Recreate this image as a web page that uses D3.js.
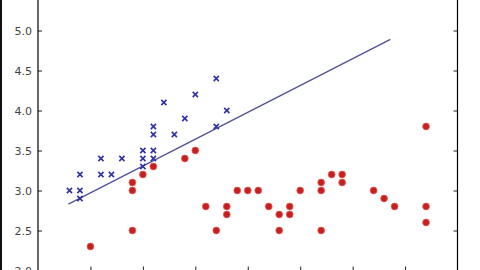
<!DOCTYPE html>
<html>
<head>
<meta charset="utf-8">
<script src="https://cdn.jsdelivr.net/npm/d3@7"></script>
<style>
  body { margin: 0; background: #fff; }
  svg { display: block; }
</style>
</head>
<body>
<div id="chart"></div>
<script>
// class A (crosses)
var blueX = [4.3, 4.4, 4.4, 4.4, 4.6, 4.6, 4.7, 4.8, 5.0, 5.0, 5.0, 5.1, 5.1, 5.1, 5.1, 5.2, 5.3, 5.4, 5.5, 5.7, 5.8, 5.7]
var blueY = [3.0, 3.0, 2.9, 3.2, 3.4, 3.2, 3.2, 3.4, 3.5, 3.4, 3.3, 3.5, 3.4, 3.7, 3.8, 4.1, 3.7, 3.9, 4.2, 4.4, 4.0, 3.8]
// class B (dots)
var redX = [4.5, 4.9, 4.9, 4.9, 5.0, 5.1, 5.4, 5.5, 5.6, 5.7, 5.8, 5.8, 5.9, 6.0, 6.1, 6.2, 6.3, 6.3, 6.4, 6.4, 6.5,
            6.7, 6.7, 6.7, 6.8, 6.9, 6.9, 7.2, 7.3, 7.4, 7.7, 7.7, 7.7]
var redY = [2.3, 2.5, 3.0, 3.1, 3.2, 3.3, 3.4, 3.5, 2.8, 2.5, 2.8, 2.7, 3.0, 3.0, 3.0, 2.8, 2.7, 2.5, 2.8, 2.7, 3.0,
            3.1, 3.0, 2.5, 3.2, 3.2, 3.1, 3.0, 2.9, 2.8, 3.8, 2.8, 2.6]
// fitted line end points
var lineX = [4.29, 7.36]
var lineY = [2.83, 4.89]
var xTicks = [4.5, 5.0, 5.5, 6.0, 6.5, 7.0, 7.5]
var yTicks = [2.0, 2.5, 3.0, 3.5, 4.0, 4.5, 5.0]

var W = 480, H = 270
var svg = d3.select('#chart').append('svg').attr('width', W).attr('height', H)

var x = d3.scaleLinear().domain([4, 8]).range([38, 457.5])
var y = d3.scaleLinear().domain([2, 5]).range([270.5, 30.5])

// edge of the frame on the left
svg.append('rect').attr('x', 0).attr('y', 0).attr('width', 2).attr('height', H).attr('fill', '#111')

// axes, ticks point inward
var fmt = d3.format('.1f')
svg.append('g').attr('transform', 'translate(' + x(4) + ',0)')
  .call(d3.axisLeft(y).tickValues(yTicks).tickFormat(fmt).tickSize(-4).tickPadding(6))
svg.append('g').attr('transform', 'translate(' + x(8) + ',0)')
  .call(d3.axisRight(y).tickValues(yTicks).tickFormat('').tickSize(-4))
svg.append('g').attr('transform', 'translate(0,' + y(2) + ')')
  .call(d3.axisBottom(x).tickValues(xTicks).tickFormat(fmt).tickSize(-4).tickPadding(6))

svg.selectAll('.domain').remove()
svg.selectAll('.tick line').attr('stroke', '#222')
svg.selectAll('.tick text').attr('fill', '#444').style('font-family', 'DejaVu Sans').style('font-size', '11px')

// spines
svg.append('line').attr('x1', x(4)).attr('x2', x(4)).attr('y1', 0).attr('y2', H).attr('stroke', '#000').attr('stroke-width', 1.2)
svg.append('line').attr('x1', x(8)).attr('x2', x(8)).attr('y1', 0).attr('y2', H).attr('stroke', '#000').attr('stroke-width', 1.2)

// regression line
svg.append('path')
  .datum(d3.range(lineX.length))
  .attr('fill', 'none')
  .attr('stroke', '#50509c')
  .attr('stroke-width', 1.3)
  .attr('d', d3.line().x(function(i) { return x(lineX[i]) }).y(function(i) { return y(lineY[i]) }))

// red dots
svg.append('g').selectAll('circle')
  .data(d3.range(redX.length))
  .enter().append('circle')
  .attr('cx', function(i) { return x(redX[i]) })
  .attr('cy', function(i) { return y(redY[i]) })
  .attr('r', 3.4)
  .attr('fill', '#c81e1e')
  .attr('stroke', '#e06060')
  .attr('stroke-width', 0.8)

// blue crosses
var s = 2.6
svg.append('g').selectAll('path')
  .data(d3.range(blueX.length))
  .enter().append('path')
  .attr('d', function(i) {
    var cx = x(blueX[i]), cy = y(blueY[i])
    return 'M' + (cx - s) + ',' + (cy - s) + 'L' + (cx + s) + ',' + (cy + s) +
           'M' + (cx - s) + ',' + (cy + s) + 'L' + (cx + s) + ',' + (cy - s)
  })
  .attr('stroke', '#3030a8')
  .attr('stroke-width', 1.6)
  .attr('fill', 'none')
</script>
</body>
</html>
